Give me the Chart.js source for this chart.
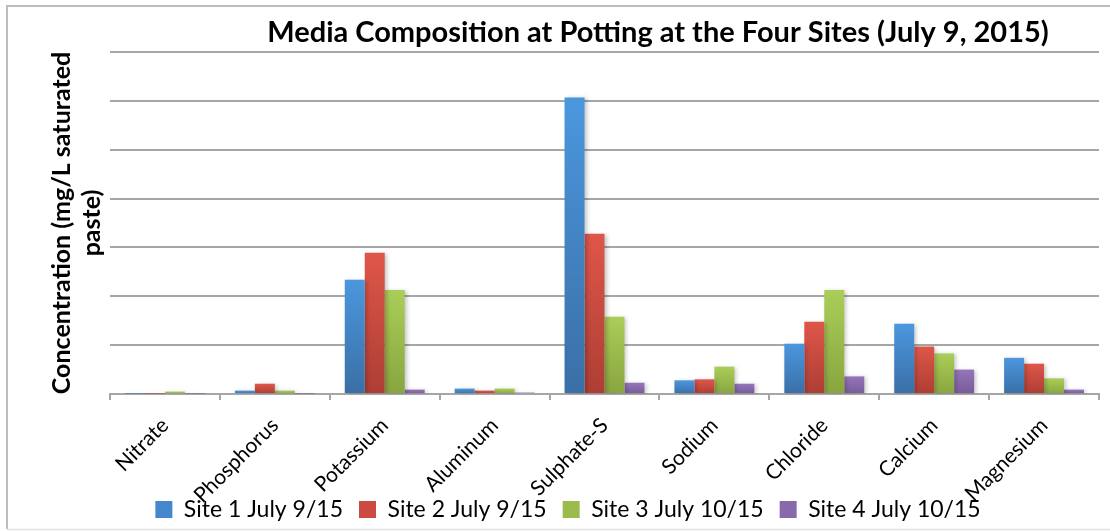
<!DOCTYPE html>
<html>
<head>
<meta charset="utf-8">
<script src="https://cdn.jsdelivr.net/npm/chart.js@4.4.1/dist/chart.umd.min.js"></script>
<style>
  html, body { margin: 0; padding: 0; background: #fff; }
  #wrap { position: relative; width: 1110px; height: 531px; }
  canvas { display: block; }
</style>
</head>
<body>
<div id="wrap"><canvas id="c" width="1110" height="531"></canvas></div>
<script>
const chartTitle = 'Media Composition at Potting at the Four Sites (July 9, 2015)';
const yTitle = ['Concentration (mg/L saturated', 'paste)'];
const categories = ['Nitrate', 'Phosphorus', 'Potassium', 'Aluminum', 'Sulphate-S', 'Sodium', 'Chloride', 'Calcium', 'Magnesium'];
const seriesNames = ['Site 1 July 9/15', 'Site 2 July 9/15', 'Site 3 July 10/15', 'Site 4 July 10/15'];
const site1 = [1, 7, 234, 11, 607, 28, 103, 144, 74];
const site2 = [1, 21, 289, 7, 328, 30, 148, 97, 62];
const site3 = [5, 7, 213, 11, 158, 56, 213, 83, 32];
const site4 = [1, 1, 9, 3, 23, 21, 36, 50, 9];
const yMax = 700;
const yStep = 100;

const palette = [
  { top: '#4b97de', bottom: '#3a6fa6', flat: '#4388cc' },
  { top: '#df5649', bottom: '#ad3e34', flat: '#cc4a3f' },
  { top: '#aace58', bottom: '#88a53f', flat: '#9bbb4c' },
  { top: '#9575bc', bottom: '#785b99', flat: '#8869ab' }
];

function gradFill(p) {
  return function (ctx) {
    const chart = ctx.chart;
    if (!chart.chartArea || ctx.type !== 'data') return p.flat;
    const ys = chart.scales.y;
    const v = ctx.raw;
    const yTop = ys.getPixelForValue(v);
    const yBase = ys.getPixelForValue(0);
    if (!(yBase - yTop > 0.5)) return p.bottom;
    const g = chart.ctx.createLinearGradient(0, yTop, 0, yBase);
    g.addColorStop(0, p.top);
    g.addColorStop(1, p.bottom);
    return g;
  };
}

const allSeries = [site1, site2, site3, site4];
const datasets = allSeries.map((d, i) => ({
  label: seriesNames[i],
  data: d,
  backgroundColor: gradFill(palette[i]),
  borderWidth: 0,
  categoryPercentage: 0.727,
  barPercentage: 1.0
}));

const frame = {
  id: 'frame',
  beforeDraw(chart) {
    const c = chart.ctx;
    c.save();
    c.fillStyle = '#fff';
    c.fillRect(0, 0, chart.width, chart.height);
    c.strokeStyle = '#bdbdbd';
    c.lineWidth = 2;
    c.beginPath();
    c.moveTo(1110, 6); c.lineTo(7, 6); c.lineTo(7, 529);
    c.stroke();
    c.strokeStyle = '#e2e2e2';
    c.lineWidth = 1.5;
    c.beginPath();
    c.moveTo(7, 529.5); c.lineTo(1110, 529.5);
    c.stroke();
    c.restore();
  },
  beforeDatasetsDraw(chart) {
    const c = chart.ctx;
    c.save();
    c.shadowColor = 'rgba(0,0,0,0.22)';
    c.shadowBlur = 4;
    c.shadowOffsetX = 2;
    c.shadowOffsetY = 1;
  },
  afterDatasetsDraw(chart) {
    chart.ctx.restore();
  },
  afterDraw(chart) {
    const c = chart.ctx;
    c.save();
    c.font = 'bold 29px Lato';
    c.fillStyle = '#000';
    c.textAlign = 'center';
    c.textBaseline = 'alphabetic';
    c.fillText(chartTitle, 658, 42);
    c.restore();
  }
};

new Chart(document.getElementById('c'), {
  type: 'bar',
  data: { labels: categories, datasets },
  plugins: [frame],
  options: {
    responsive: false,
    animation: false,
    devicePixelRatio: 1,
    layout: { padding: { top: 52, right: 11, left: 37, bottom: 0 } },
    plugins: {
      title: { display: false },
      tooltip: { enabled: false },
      legend: {
        position: 'bottom',
        labels: {
          font: { family: 'Lato', size: 23 },
          color: '#000',
          boxWidth: 17,
          boxHeight: 17,
          padding: 16,
          generateLabels(chart) {
            return chart.data.datasets.map((ds, i) => ({
              text: ds.label,
              fillStyle: palette[i].flat,
              strokeStyle: palette[i].flat,
              lineWidth: 0,
              hidden: false,
              datasetIndex: i,
              fontColor: '#000'
            }));
          }
        }
      }
    },
    scales: {
      x: {
        afterFit(scale) {
          scale.height = 88;
          scale._computeLabelArea = () => null;
        },
        grid: {
          display: true,
          drawOnChartArea: false,
          drawTicks: true,
          tickLength: 6,
          color: '#a6a6a6',
          lineWidth: 2,
          offset: true
        },
        border: { display: true, color: '#a6a6a6', width: 2 },
        ticks: {
          color: '#000',
          font: { family: 'Lato', size: 21 },
          maxRotation: 45,
          minRotation: 45,
          autoSkip: false,
          padding: 13
        }
      },
      y: {
        min: 0,
        max: yMax,
        afterFit(scale) { scale.width = 73; },
        ticks: { display: false, stepSize: yStep },
        grid: {
          color: '#a6a6a6',
          lineWidth: 2,
          drawTicks: false
        },
        border: { display: false },
        title: {
          display: true,
          text: yTitle,
          color: '#000',
          font: { family: 'Lato', size: 25, weight: 'bold', lineHeight: 1.2 },
          padding: { top: 10, bottom: 0 }
        }
      }
    }
  }
});
</script>
</body>
</html>
